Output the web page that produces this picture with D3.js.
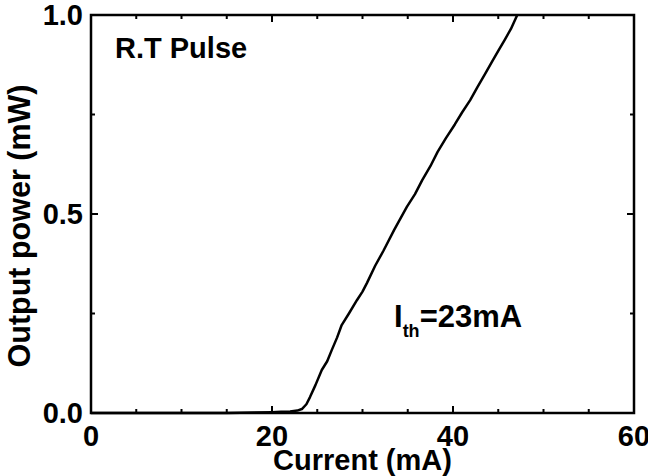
<!DOCTYPE html>
<html lang="en">

<head>
    <meta charset="UTF-8">
    <title>L-I curve</title>
    <style>
        body {
            margin: 0;
            padding: 0;
            background: #fff;
        }

        svg {
            display: block;
            font-family: "Liberation Sans", Arial, sans-serif;
            font-weight: bold;
        }
    </style>
</head>

<body>
    <script src="https://d3js.org/d3.v7.min.js"></script>
    <script>
        const width = 648
        const height = 476
        const margin = { top: 15, right: 14, bottom: 63, left: 91 }

        // measured L-I trace (current in mA, power in mW)
        const current = [0, 5, 10, 15, 18, 20, 21, 22, 22.8, 23.3, 23.8, 24.2, 24.8, 25.5, 26.1, 26.6,
            27.2, 27.7, 28.5, 29.4, 30.0, 30.5, 31.4, 32.3, 33.5, 34.9, 35.8, 36.6, 37.5, 38.3,
            39.2, 40.2, 41.0, 41.9, 42.7, 43.5, 44.3, 45.0, 45.7, 46.4, 47.1]
        const power = [0, 0, 0, 0, 0.001, 0.002, 0.003, 0.004, 0.006, 0.01, 0.022, 0.04, 0.07, 0.108, 0.13, 0.158,
            0.19, 0.221, 0.25, 0.284, 0.305, 0.327, 0.37, 0.407, 0.46, 0.518, 0.55, 0.585, 0.62, 0.656,
            0.69, 0.725, 0.755, 0.786, 0.819, 0.85, 0.882, 0.91, 0.937, 0.965, 1.0]

        const xMajor = [0, 20, 40, 60]
        const xMinor = [5, 10, 15, 25, 30, 35, 45, 50, 55]
        const yMajor = [0, 0.5, 1.0]
        const yMinor = [0.25, 0.75]

        const x = d3.scaleLinear().domain([0, 60]).range([margin.left, width - margin.right])
        const y = d3.scaleLinear().domain([0, 1]).range([height - margin.bottom, margin.top])

        const svg = d3.select('body').append('svg')
            .attr('width', width)
            .attr('height', height)

        const x0 = x.range()[0], x1 = x.range()[1]
        const y0 = y.range()[0], y1 = y.range()[1]

        // inward ticks on all four sides
        function ticks(g, scale, vals, len, orient) {
            vals.forEach(v => {
                const p = scale(v)
                if (orient === 'x') {
                    g.append('line').attr('x1', p).attr('x2', p).attr('y1', y0).attr('y2', y0 - len)
                    g.append('line').attr('x1', p).attr('x2', p).attr('y1', y1).attr('y2', y1 + len)
                } else {
                    g.append('line').attr('y1', p).attr('y2', p).attr('x1', x0).attr('x2', x0 + len)
                    g.append('line').attr('y1', p).attr('y2', p).attr('x1', x1).attr('x2', x1 - len)
                }
            })
        }

        const tg = svg.append('g').attr('stroke', '#000').attr('stroke-width', 2)
        ticks(tg, x, xMajor, 7, 'x')
        ticks(tg, x, xMinor, 4, 'x')
        ticks(tg, y, yMajor, 7, 'y')
        ticks(tg, y, yMinor, 4, 'y')

        const line = d3.line()
            .x((d, i) => x(current[i]))
            .y(d => y(d))

        svg.append('path')
            .datum(power)
            .attr('d', line)
            .attr('fill', 'none')
            .attr('stroke', '#000')
            .attr('stroke-width', 2.5)
            .attr('stroke-linejoin', 'round')

        svg.append('rect')
            .attr('x', x0).attr('y', y1)
            .attr('width', x1 - x0).attr('height', y0 - y1)
            .attr('fill', 'none')
            .attr('stroke', '#000')
            .attr('stroke-width', 2.5)

        // tick labels
        svg.append('g').selectAll('text')
            .data(xMajor)
            .join('text')
            .attr('x', d => x(d))
            .attr('y', 446)
            .attr('text-anchor', 'middle')
            .attr('font-size', 29)
            .text(d => d)

        svg.append('g').selectAll('text')
            .data(yMajor)
            .join('text')
            .attr('x', 83)
            .attr('y', d => y(d) + 10)
            .attr('text-anchor', 'end')
            .attr('font-size', 29)
            .text(d => d3.format('.1f')(d))

        // axis titles
        svg.append('text')
            .attr('x', (x0 + x1) / 2)
            .attr('y', 470)
            .attr('text-anchor', 'middle')
            .attr('font-size', 29)
            .text('Current (mA)')

        svg.append('text')
            .attr('transform', `translate(30, 226) rotate(-90)`)
            .attr('text-anchor', 'middle')
            .attr('font-size', 30.5)
            .text('Output power (mW)')

        // annotations
        svg.append('text')
            .attr('x', 115)
            .attr('y', 58)
            .attr('font-size', 29)
            .text('R.T Pulse')

        const ith = svg.append('text')
            .attr('x', 394)
            .attr('y', 327)
            .attr('font-size', 31)
        ith.append('tspan').text('I')
        ith.append('tspan').attr('font-size', 18).attr('dy', 10).text('th')
        ith.append('tspan').attr('dy', -10).text('=23mA')
    </script>
</body>

</html>
